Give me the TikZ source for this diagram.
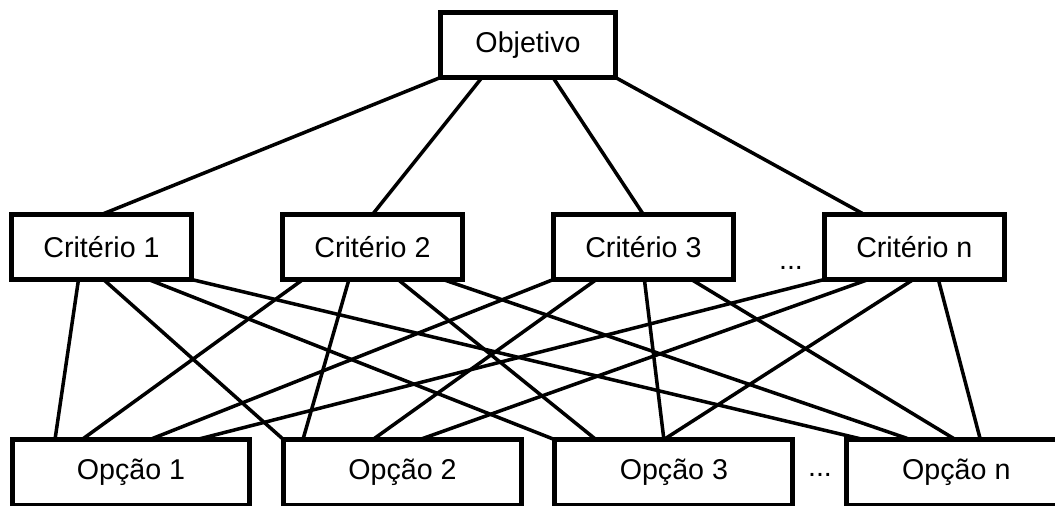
\documentclass[tikz,border=0pt]{standalone}
\usepackage{fontspec}
\setmainfont{Liberation Sans}
\usetikzlibrary{positioning}

\begin{document}
\begin{tikzpicture}[
  x=0.02cm,
  y=-0.02cm,
  every node/.style={
    font=\fontsize{16.3}{19}\selectfont,
    text=black
  },
  box/.style={
    draw=black,
    line width=2.85pt,
    rectangle,
    fill=white,
    align=center,
    inner sep=0pt,
    outer sep=0pt,
    minimum width=3.6cm,
    minimum height=1.3cm
  },
  option/.style={
    box,
    minimum width=4.76cm,
    minimum height=1.32cm
  },
  link/.style={
    draw=black,
    line width=2pt
  }
]
  \useasboundingbox (0,0) rectangle (1055,506);

  \node[box, minimum width=3.5cm] (goal) at (528,45) {Objetivo};

  \node[box] (c1) at (101.5,247) {Critério 1};
  \node[box, right=1.82cm of c1] (c2) {Critério 2};
  \node[box, right=1.82cm of c2] (c3) {Critério 3};
  \node[box, right=1.82cm of c3] (cn) {Critério n};
  \node[anchor=base] (cdots) at (791,270) {...};

  \node[option] (o1) at (131,472.5) {Opção 1};
  \node[option, right=0.67cm of o1] (o2) {Opção 2};
  \node[option, right=0.67cm of o2] (o3) {Opção 3};
  \node[option, right=1.08cm of o3, minimum width=4.38cm] (on) {Opção n};
  \node[anchor=base] (odots) at (820,477) {...};

  % objective to criteria
  \draw[link] ([xshift=-87.5*0.02cm]goal.south) -- (c1.north);
  \draw[link] ([xshift=-46*0.02cm]goal.south) -- (c2.north);
  \draw[link] ([xshift=25*0.02cm]goal.south) -- (c3.north);
  \draw[link] ([xshift=87.5*0.02cm]goal.south) -- ([xshift=-50*0.02cm]cn.north);

  % criteria to options
  \draw[link] ([xshift=-23*0.02cm]c1.south) -- ([xshift=-76*0.02cm]o1.north);
  \draw[link] ([xshift=2*0.02cm]c1.south) -- ([xshift=-119*0.02cm]o2.north);
  \draw[link] ([xshift=47*0.02cm]c1.south) -- ([xshift=-119.5*0.02cm]o3.north);
  \draw[link] ([xshift=90*0.02cm]c1.south) -- ([xshift=-93*0.02cm]on.north);

  \draw[link] ([xshift=-69.5*0.02cm]c2.south) -- ([xshift=-49*0.02cm]o1.north);
  \draw[link] ([xshift=-23.5*0.02cm]c2.south) -- ([xshift=-99.5*0.02cm]o2.north);
  \draw[link] ([xshift=25.5*0.02cm]c2.south) -- ([xshift=-78*0.02cm]o3.north);
  \draw[link] ([xshift=70.5*0.02cm]c2.south) -- ([xshift=-46*0.02cm]on.north);

  \draw[link] ([xshift=-90*0.02cm]c3.south) -- ([xshift=19*0.02cm]o1.north);
  \draw[link] ([xshift=-47*0.02cm]c3.south) -- ([xshift=-29.5*0.02cm]o2.north);
  \draw[link] ([xshift=1*0.02cm]c3.south) -- ([xshift=-10*0.02cm]o3.north);
  \draw[link] ([xshift=48*0.02cm]c3.south) -- ([xshift=-1*0.02cm]on.north);

  \draw[link] ([xshift=-90*0.02cm]cn.south) -- ([xshift=66*0.02cm]o1.north);
  \draw[link] ([xshift=-46*0.02cm]cn.south) -- ([xshift=17.5*0.02cm]o2.north);
  \draw[link] ([xshift=-1*0.02cm]cn.south) -- ([xshift=-10*0.02cm]o3.north);
  \draw[link] ([xshift=24*0.02cm]cn.south) -- ([xshift=24*0.02cm]on.north);
\end{tikzpicture}
\end{document}
